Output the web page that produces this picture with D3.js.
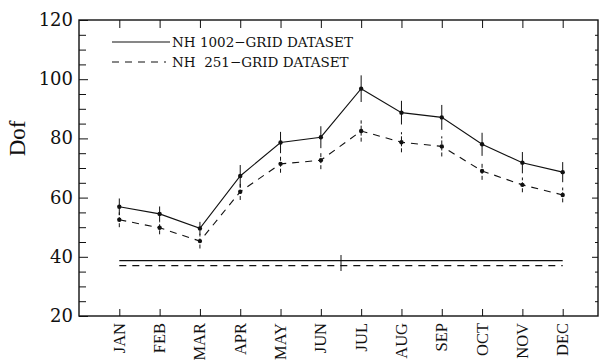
<!DOCTYPE html>
<html>
<head>
<meta charset="utf-8">
<script src="https://cdn.jsdelivr.net/npm/d3@7"></script>
<style>
  body { margin: 0; background: #fff; }
  svg { display: block; }
</style>
</head>
<body>
<svg width="599" height="363"></svg>
<script>
const months = ['JAN', 'FEB', 'MAR', 'APR', 'MAY', 'JUN', 'JUL', 'AUG', 'SEP', 'OCT', 'NOV', 'DEC']
const grid1002 = [56.9, 54.5, 49.6, 67.3, 78.6, 80.4, 96.8, 88.7, 87.1, 78.0, 71.8, 68.6]
const err1002 = [2.8, 2.5, 2.2, 3.7, 3.6, 3.7, 4.5, 4.0, 4.2, 3.9, 3.6, 3.4]
const grid251 = [52.5, 49.8, 45.3, 62.0, 71.4, 72.6, 82.5, 78.7, 77.3, 69.0, 64.3, 60.9]
const err251 = [2.5, 2.2, 2.5, 2.8, 3.0, 3.0, 3.6, 3.4, 3.4, 3.0, 2.5, 2.5]
const level1002 = 38.7
const level251 = 37.0
const levelMark = [6.5, 35.2, 40.6] // x position, low, high
const yTicks = [20, 40, 60, 80, 100, 120]
const legendLabels = ['NH 1002\u2212GRID DATASET', 'NH  251\u2212GRID DATASET']

const svg = d3.select('svg')
const mLeft = 79
const mRight = 598
const mTop = 20
const mBottom = 316

const x = d3.scaleLinear().domain([0, 13]).range([mLeft, 603])
const y = d3.scaleLinear().domain([20, 120]).range([mBottom, mTop])

const ink = '#111'
const dash = '7,6'

// frame
svg.append('rect')
  .attr('x', mLeft).attr('y', mTop)
  .attr('width', mRight - mLeft).attr('height', mBottom - mTop)
  .attr('fill', 'none').attr('stroke', ink).attr('stroke-width', 1.4)

// left axis
const yAxis = svg.append('g').attr('transform', `translate(${mLeft},0)`)
  .call(d3.axisRight(y).tickValues(d3.range(20, 121, 5)).tickSize(7).tickFormat(''))
yAxis.select('.domain').remove()
yAxis.selectAll('line').attr('stroke', ink)
  .attr('x2', d => d % 20 === 0 ? 9 : 7)

svg.append('g').selectAll('text')
  .data(yTicks).enter().append('text')
  .attr('x', mLeft - 6)
  .attr('y', d => y(d) + 6)
  .attr('text-anchor', 'end')
  .attr('font-family', 'DejaVu Serif')
  .attr('font-size', 18)
  .attr('fill', ink)
  .text(d => d)

// right axis
const yAxisR = svg.append('g').attr('transform', `translate(${mRight},0)`)
  .call(d3.axisLeft(y).tickValues(d3.range(25, 120, 5)).tickSize(5).tickFormat(''))
yAxisR.select('.domain').remove()
yAxisR.selectAll('line').attr('stroke', ink)
  .attr('x2', d => d % 20 === 0 ? -6 : -3)

// bottom and top ticks
const monthIdx = months.map((m, i) => i + 1)
const xb = svg.append('g').attr('transform', `translate(0,${mBottom})`)
  .call(d3.axisTop(x).tickValues(monthIdx).tickSize(7).tickFormat(''))
xb.select('.domain').remove()
xb.selectAll('line').attr('stroke', ink)

const xt = svg.append('g').attr('transform', `translate(0,${mTop})`)
  .call(d3.axisBottom(x).tickValues(monthIdx).tickSize(8).tickFormat(''))
xt.select('.domain').remove()
xt.selectAll('line').attr('stroke', ink)

// month labels
svg.append('g').selectAll('text')
  .data(months).enter().append('text')
  .attr('transform', (d, i) => `translate(${x(i + 1) + 5.5},${mBottom + 7}) rotate(-90)`)
  .attr('text-anchor', 'end')
  .attr('font-family', 'Liberation Serif')
  .attr('font-size', 16.5)
  .attr('fill', ink)
  .text(d => d)

// y label
svg.append('text')
  .attr('transform', `translate(25,${y(80)}) rotate(-90)`)
  .attr('text-anchor', 'middle')
  .attr('font-family', 'Liberation Serif')
  .attr('font-size', 23)
  .attr('fill', ink)
  .text('Dof')

// reference levels
svg.append('line')
  .attr('x1', x(1)).attr('x2', x(12))
  .attr('y1', y(level1002)).attr('y2', y(level1002))
  .attr('stroke', ink).attr('stroke-width', 1.2)
svg.append('line')
  .attr('x1', x(1)).attr('x2', x(12))
  .attr('y1', y(level251)).attr('y2', y(level251))
  .attr('stroke', ink).attr('stroke-width', 1.2).attr('stroke-dasharray', dash)
svg.append('line')
  .attr('x1', x(levelMark[0])).attr('x2', x(levelMark[0]))
  .attr('y1', y(levelMark[1])).attr('y2', y(levelMark[2]))
  .attr('stroke', ink).attr('stroke-width', 1)

const line = d3.line().x((d, i) => x(i + 1)).y(d => y(d))

function series (vals, errs, dashed) {
  const g = svg.append('g')
  g.selectAll('line.err')
    .data(vals).enter().append('line')
    .attr('class', 'err')
    .attr('x1', (d, i) => x(i + 1)).attr('x2', (d, i) => x(i + 1))
    .attr('y1', (d, i) => y(d - errs[i])).attr('y2', (d, i) => y(d + errs[i]))
    .attr('stroke', ink).attr('stroke-width', 1)
    .attr('stroke-dasharray', dashed ? '4,2' : null)
  g.append('path')
    .datum(vals)
    .attr('d', line)
    .attr('fill', 'none')
    .attr('stroke', ink)
    .attr('stroke-width', 1.1)
    .attr('stroke-dasharray', dashed ? dash : null)
  g.selectAll('circle')
    .data(vals).enter().append('circle')
    .attr('cx', (d, i) => x(i + 1)).attr('cy', d => y(d))
    .attr('r', 2.2).attr('fill', ink)
}
series(grid1002, err1002, false)
series(grid251, err251, true)

// legend
const legend = svg.append('g')
legendLabels.forEach((t, i) => {
  const ly = 42 + i * 20
  legend.append('line')
    .attr('x1', 112).attr('x2', i === 0 ? 170 : 166)
    .attr('y1', ly).attr('y2', ly)
    .attr('stroke', ink).attr('stroke-width', 1.1)
    .attr('stroke-dasharray', i === 0 ? null : dash)
  legend.append('text')
    .attr('x', 172).attr('y', ly + 5)
    .attr('font-family', 'DejaVu Serif')
    .attr('font-size', 13.5)
    .attr('fill', ink)
    .attr('xml:space', 'preserve')
    .style('white-space', 'pre')
    .text(t)
})
</script>
</body>
</html>
